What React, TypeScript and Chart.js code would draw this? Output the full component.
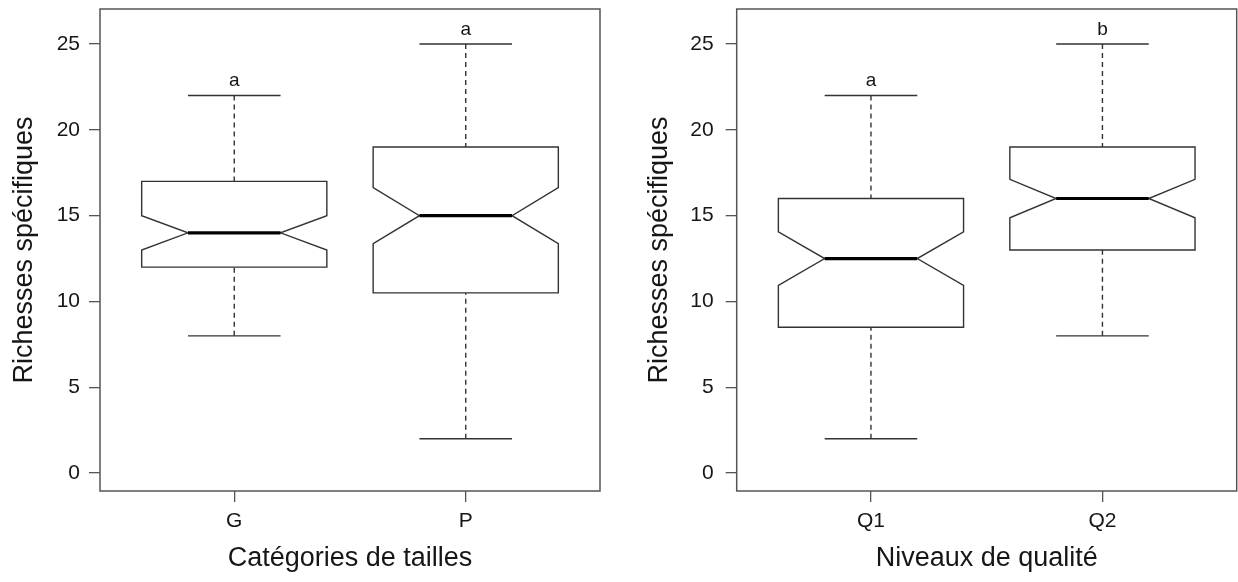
import React, { useEffect, useRef } from "react";
import { Chart, registerables } from "chart.js";

Chart.register(...registerables);

// ---- Data ----
const panel1Categories = ["G", "P"];
const panel1WhiskerLow = [8, 2];
const panel1Q1 = [12, 10.5];
const panel1NotchLow = [13, 13.37];
const panel1Median = [14, 15];
const panel1NotchHigh = [15, 16.63];
const panel1Q3 = [17, 19];
const panel1WhiskerHigh = [22, 25];
const panel1Letters = ["a", "a"];

const panel2Categories = ["Q1", "Q2"];
const panel2WhiskerLow = [2, 8];
const panel2Q1 = [8.5, 13];
const panel2NotchLow = [10.94, 14.88];
const panel2Median = [12.5, 16];
const panel2NotchHigh = [14.06, 17.12];
const panel2Q3 = [16, 19];
const panel2WhiskerHigh = [22, 25];
const panel2Letters = ["a", "b"];

const yTicks = [0, 5, 10, 15, 20, 25];
const yLimits = [-1.04, 27.04];
const xLimits = [0.42, 2.58];

const FONT = "'Liberation Sans', Arial, Helvetica, sans-serif";
const TEXT = "#161616";

type PanelStats = {
  categories: string[];
  wLow: number[];
  q1: number[];
  nLow: number[];
  med: number[];
  nHigh: number[];
  q3: number[];
  wHigh: number[];
  letters: string[];
};

const notchedBoxPlugin = {
  id: "notchedBox",
  afterDatasetsDraw(chart: any, _args: any, opts: any) {
    const st: PanelStats = opts.stats;
    if (!st) return;
    const ctx = chart.ctx;
    const xs = chart.scales.x;
    const ys = chart.scales.y;
    const area = chart.chartArea;
    const halfBox = 0.4;
    const halfNotch = 0.2;
    const halfCap = 0.2;
    ctx.save();
    st.categories.forEach((_c, i) => {
      const pos = i + 1;
      const cx = xs.getPixelForValue(pos);
      const L = xs.getPixelForValue(pos - halfBox);
      const R = xs.getPixelForValue(pos + halfBox);
      const iL = xs.getPixelForValue(pos - halfNotch);
      const iR = xs.getPixelForValue(pos + halfNotch);
      const cL = xs.getPixelForValue(pos - halfCap);
      const cR = xs.getPixelForValue(pos + halfCap);
      const yq1 = ys.getPixelForValue(st.q1[i]);
      const yq3 = ys.getPixelForValue(st.q3[i]);
      const ynl = ys.getPixelForValue(st.nLow[i]);
      const ynh = ys.getPixelForValue(st.nHigh[i]);
      const ym = ys.getPixelForValue(st.med[i]);
      const ywl = ys.getPixelForValue(st.wLow[i]);
      const ywh = ys.getPixelForValue(st.wHigh[i]);

      // whiskers (dashed), drawn from whisker end toward the box
      ctx.strokeStyle = "#333333";
      ctx.lineWidth = 1.4;
      ctx.setLineDash([5, 4]);
      ctx.beginPath();
      ctx.moveTo(cx, ywh);
      ctx.lineTo(cx, yq3);
      ctx.moveTo(cx, ywl);
      ctx.lineTo(cx, yq1);
      ctx.stroke();
      ctx.setLineDash([]);

      // caps
      ctx.beginPath();
      ctx.moveTo(cL, ywh);
      ctx.lineTo(cR, ywh);
      ctx.moveTo(cL, ywl);
      ctx.lineTo(cR, ywl);
      ctx.stroke();

      // notched box
      ctx.beginPath();
      ctx.moveTo(L, yq3);
      ctx.lineTo(R, yq3);
      ctx.lineTo(R, ynh);
      ctx.lineTo(iR, ym);
      ctx.lineTo(R, ynl);
      ctx.lineTo(R, yq1);
      ctx.lineTo(L, yq1);
      ctx.lineTo(L, ynl);
      ctx.lineTo(iL, ym);
      ctx.lineTo(L, ynh);
      ctx.closePath();
      ctx.fillStyle = "#ffffff";
      ctx.fill();
      ctx.lineJoin = "miter";
      ctx.stroke();

      // median
      ctx.strokeStyle = "#000000";
      ctx.lineWidth = 3.2;
      ctx.beginPath();
      ctx.moveTo(iL, ym);
      ctx.lineTo(iR, ym);
      ctx.stroke();

      // letter annotation
      ctx.fillStyle = TEXT;
      ctx.font = `19px ${FONT}`;
      ctx.textAlign = "center";
      ctx.textBaseline = "alphabetic";
      ctx.fillText(st.letters[i], cx, ys.getPixelForValue(st.wHigh[i] + 0.55));
    });

    // frame
    ctx.strokeStyle = "#555555";
    ctx.lineWidth = 1.5;
    ctx.strokeRect(area.left, area.top, area.right - area.left, area.bottom - area.top);
    ctx.restore();
  },
};

function buildConfig(
  st: PanelStats,
  xTitle: string,
  yAxisWidth: number,
  rightPad: number,
  yTitlePad: number,
  yTickPad: number
): any {
  return {
    type: "scatter",
    data: {
      datasets: [
        {
          data: st.med.map((m, i) => ({ x: i + 1, y: m })),
          pointRadius: 0,
          showLine: false,
        },
      ],
    },
    options: {
      animation: false,
      responsive: false,
      events: [],
      layout: { padding: { left: 0, right: rightPad, top: 9, bottom: 0 } },
      plugins: {
        legend: { display: false },
        tooltip: { enabled: false },
        notchedBox: { stats: st },
      },
      scales: {
        x: {
          type: "linear",
          min: xLimits[0],
          max: xLimits[1],
          afterBuildTicks: (s: any) => {
            s.ticks = st.categories.map((_c, i) => ({ value: i + 1 }));
          },
          afterFit: (s: any) => {
            s.height = 91;
            s.paddingLeft = 0;
            s.paddingRight = 0;
            s.paddingTop = 0;
            s.paddingBottom = 0;
          },
          grid: {
            drawOnChartArea: false,
            drawTicks: true,
            tickLength: 11,
            color: "#555555",
            lineWidth: 1.3,
          },
          border: { display: false },
          ticks: {
            callback: (v: number) => st.categories[Math.round(v) - 1],
            font: { family: FONT, size: 21 },
            color: TEXT,
            padding: 7,
            maxRotation: 0,
            autoSkip: false,
          },
          title: {
            display: true,
            text: xTitle,
            font: { family: FONT, size: 27 },
            color: TEXT,
            padding: { top: 0, bottom: 7 },
          },
        },
        y: {
          type: "linear",
          min: yLimits[0],
          max: yLimits[1],
          afterBuildTicks: (s: any) => {
            s.ticks = yTicks.map((v) => ({ value: v }));
          },
          afterFit: (s: any) => {
            s.width = yAxisWidth;
            s.paddingLeft = 0;
            s.paddingRight = 0;
            s.paddingTop = 0;
            s.paddingBottom = 0;
          },
          grid: {
            drawOnChartArea: false,
            drawTicks: true,
            tickLength: 11,
            color: "#555555",
            lineWidth: 1.3,
          },
          border: { display: false },
          ticks: {
            font: { family: FONT, size: 21 },
            color: TEXT,
            padding: yTickPad,
            autoSkip: false,
          },
          title: {
            display: true,
            text: "Richesses spécifiques",
            font: { family: FONT, size: 27 },
            color: TEXT,
            padding: { top: yTitlePad, bottom: 0 },
          },
        },
      },
    },
    plugins: [notchedBoxPlugin],
  };
}

const stats1: PanelStats = {
  categories: panel1Categories,
  wLow: panel1WhiskerLow,
  q1: panel1Q1,
  nLow: panel1NotchLow,
  med: panel1Median,
  nHigh: panel1NotchHigh,
  q3: panel1Q3,
  wHigh: panel1WhiskerHigh,
  letters: panel1Letters,
};

const stats2: PanelStats = {
  categories: panel2Categories,
  wLow: panel2WhiskerLow,
  q1: panel2Q1,
  nLow: panel2NotchLow,
  med: panel2Median,
  nHigh: panel2NotchHigh,
  q3: panel2Q3,
  wHigh: panel2WhiskerHigh,
  letters: panel2Letters,
};

export default function App() {
  const ref1 = useRef<HTMLCanvasElement | null>(null);
  const ref2 = useRef<HTMLCanvasElement | null>(null);

  useEffect(() => {
    const c1 = new Chart(
      ref1.current as HTMLCanvasElement,
      buildConfig(stats1, "Catégories de tailles", 100, 19, 8, 9)
    );
    const c2 = new Chart(
      ref2.current as HTMLCanvasElement,
      buildConfig(stats2, "Niveaux de qualité", 117.7, 1.3, 24, 12)
    );
    return () => {
      c1.destroy();
      c2.destroy();
    };
  }, []);

  return (
    <div
      style={{
        position: "absolute",
        left: 0,
        top: 0,
        width: 1238,
        height: 582,
        background: "#ffffff",
        display: "flex",
      }}
    >
      <canvas ref={ref1} width={619} height={582} style={{ display: "block", width: 619, height: 582 }} />
      <canvas ref={ref2} width={619} height={582} style={{ display: "block", width: 619, height: 582 }} />
    </div>
  );
}
